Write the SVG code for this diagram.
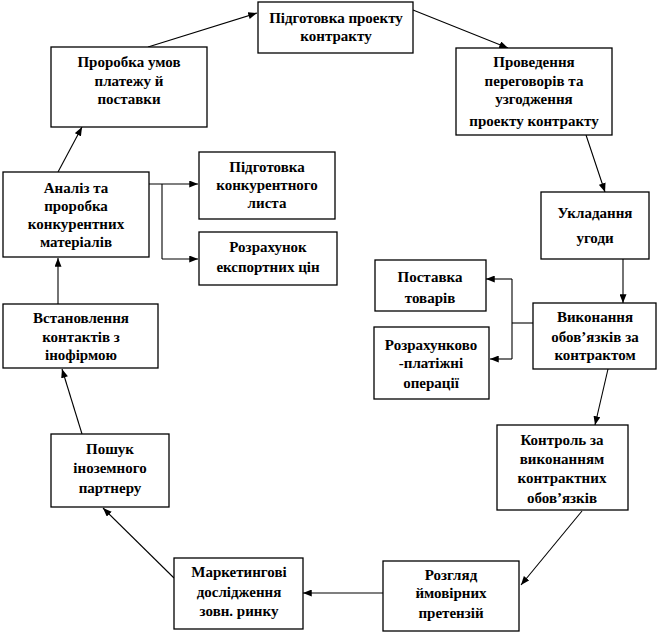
<svg xmlns="http://www.w3.org/2000/svg" width="659" height="635" viewBox="0 0 659 635">
<style>
.box{fill:#fff;stroke:#000;stroke-width:1.3}
text{font-family:"Liberation Serif","Times New Roman",serif;font-weight:bold;font-size:15px;text-anchor:middle;fill:#000}
.ln{fill:none;stroke:#000;stroke-width:1.1}
</style>
<defs>
<marker id="ah" viewBox="0 0 10 8" refX="10" refY="4" markerWidth="9" markerHeight="7" markerUnits="userSpaceOnUse" orient="auto">
<path d="M0,0 L10,4 L0,8 z" fill="#000"/>
</marker>
</defs>
<rect width="659" height="635" fill="#fff"/>
<g id="connectors">
<line class="ln" x1="148" y1="47" x2="257" y2="13" marker-end="url(#ah)"/>
<line class="ln" x1="413" y1="10" x2="508" y2="48" marker-end="url(#ah)"/>
<line class="ln" x1="586" y1="135" x2="605" y2="192" marker-end="url(#ah)"/>
<line class="ln" x1="623" y1="259" x2="623" y2="303" marker-end="url(#ah)"/>
<polyline class="ln" points="533,323 512,323"/>
<polyline class="ln" points="512,279 512,359"/>
<line class="ln" x1="512" y1="279" x2="486" y2="279" marker-end="url(#ah)"/>
<line class="ln" x1="512" y1="359" x2="490" y2="359" marker-end="url(#ah)"/>
<line class="ln" x1="608" y1="369" x2="595" y2="425" marker-end="url(#ah)"/>
<line class="ln" x1="582" y1="511" x2="521" y2="585" marker-end="url(#ah)"/>
<line class="ln" x1="383" y1="593" x2="303" y2="593" marker-end="url(#ah)"/>
<line class="ln" x1="174" y1="578" x2="103" y2="508" marker-end="url(#ah)"/>
<line class="ln" x1="82" y1="434" x2="62" y2="369" marker-end="url(#ah)"/>
<line class="ln" x1="58" y1="304" x2="58" y2="258" marker-end="url(#ah)"/>
<line class="ln" x1="58" y1="172" x2="82" y2="127" marker-end="url(#ah)"/>
<line class="ln" x1="149" y1="184" x2="198" y2="184" marker-end="url(#ah)"/>
<polyline class="ln" points="162,184 162,259"/>
<line class="ln" x1="162" y1="259" x2="198" y2="259" marker-end="url(#ah)"/>
</g>
<g id="n1"><rect class="box" x="258" y="2" width="155" height="51"/><text x="336" y="23">Підготовка проекту</text><text x="336" y="41">контракту</text></g>
<g id="n2"><rect class="box" x="456" y="48" width="156" height="87"/><text x="534" y="67">Проведення</text><text x="534" y="86">переговорів та</text><text x="534" y="104">узгодження</text><text x="534" y="126">проекту контракту</text></g>
<g id="n3"><rect class="box" x="541" y="192" width="108" height="67"/><text x="595" y="218">Укладання</text><text x="595" y="243">угоди</text></g>
<g id="n4"><rect class="box" x="533" y="303" width="123" height="66"/><text x="595" y="322">Виконання</text><text x="595" y="342">обов’язків  за</text><text x="595" y="360">контрактом</text></g>
<g id="n5"><rect class="box" x="375" y="260" width="111" height="51"/><text x="430" y="282">Поставка</text><text x="430" y="303">товарів</text></g>
<g id="n6"><rect class="box" x="374" y="327" width="115" height="72"/><text x="431" y="350">Розрахунково</text><text x="431" y="368">-платіжні</text><text x="431" y="388">операції</text></g>
<g id="n7"><rect class="box" x="497" y="425" width="131" height="85"/><text x="562" y="445">Контроль за</text><text x="562" y="464">виконанням</text><text x="562" y="483">контрактних</text><text x="562" y="503">обов’язків</text></g>
<g id="n8"><rect class="box" x="383" y="561" width="136" height="70"/><text x="451" y="580">Розгляд</text><text x="451" y="598">ймовірних</text><text x="451" y="618">претензій</text></g>
<g id="n9"><rect class="box" x="174" y="558" width="129" height="71"/><text x="239" y="577">Маркетингові</text><text x="239" y="597">дослідження</text><text x="239" y="616">зовн. ринку</text></g>
<g id="n10"><rect class="box" x="51" y="434" width="118" height="73"/><text x="110" y="454">Пошук</text><text x="110" y="473">іноземного</text><text x="110" y="493">партнеру</text></g>
<g id="n11"><rect class="box" x="3" y="304" width="155" height="64"/><text x="81" y="323">Встановлення</text><text x="81" y="342">контактів  з</text><text x="81" y="360">інофірмою</text></g>
<g id="n12"><rect class="box" x="3" y="172" width="146" height="85"/><text x="76" y="193">Аналіз та</text><text x="76" y="211">проробка</text><text x="76" y="229">конкурентних</text><text x="76" y="247">матеріалів</text></g>
<g id="n13"><rect class="box" x="199" y="152" width="136" height="67"/><text x="267" y="172">Підготовка</text><text x="267" y="190">конкурентного</text><text x="267" y="208">листа</text></g>
<g id="n14"><rect class="box" x="199" y="232" width="138" height="53"/><text x="268" y="252">Розрахунок</text><text x="268" y="272">експортних цін</text></g>
<g id="n15"><rect class="box" x="51" y="47" width="156" height="80"/><text x="129" y="67">Проробка умов</text><text x="129" y="86">платежу й</text><text x="129" y="104">поставки</text></g>
</svg>
